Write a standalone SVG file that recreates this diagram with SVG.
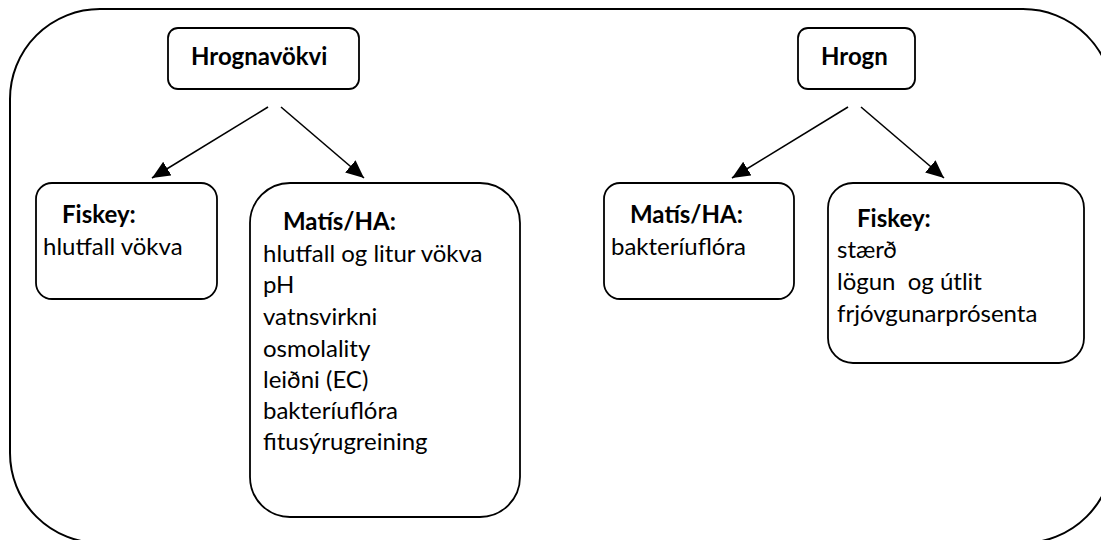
<svg xmlns="http://www.w3.org/2000/svg" width="1101" height="540" viewBox="0 0 1101 540">
<defs>
<style>
.box{fill:#fff;stroke:#000;stroke-width:1.8}
.outer{fill:none;stroke:#000;stroke-width:2}
.t{font-family:Lato,"Open Sans",sans-serif;font-size:24px;fill:#000}
.b{font-weight:bold}
.conn line{stroke:#000;stroke-width:1.6}
</style>
<marker id="ah" viewBox="0 0 18 16" refX="18" refY="8" markerWidth="18" markerHeight="16" markerUnits="userSpaceOnUse" orient="auto">
<path d="M0,0 L18,8 L0,16 Z" fill="#000"/>
</marker>
</defs>
<rect width="1101" height="540" fill="#fff"/>
<rect id="frame" class="outer" x="10" y="9" width="1103" height="534" rx="90" ry="90"/>
<g id="n-hrognavokvi">
<rect class="box" x="168" y="28" width="191" height="61" rx="10"/>
<text class="t b" x="191" y="65">Hrognavökvi</text>
</g>
<g id="n-hrogn">
<rect class="box" x="798" y="28" width="117" height="61" rx="10"/>
<text class="t b" x="821" y="65">Hrogn</text>
</g>
<g id="n-fiskey-left">
<rect class="box" x="36" y="183" width="181" height="116" rx="16"/>
<text class="t b" x="62" y="223">Fiskey:</text>
<text class="t" x="43" y="255">hlutfall vökva</text>
</g>
<g id="n-matis-left">
<rect class="box" x="250" y="183" width="270" height="334" rx="40"/>
<text class="t b" x="283" y="230">Matís/HA:</text>
<text class="t" x="263" y="262">hlutfall og litur vökva</text>
<text class="t" x="263" y="293">pH</text>
<text class="t" x="263" y="325">vatnsvirkni</text>
<text class="t" x="263" y="357">osmolality</text>
<text class="t" x="263" y="388">leiðni (EC)</text>
<text class="t" x="263" y="419">bakteríuflóra</text>
<text class="t" x="263" y="450">fitusýrugreining</text>
</g>
<g id="n-matis-right">
<rect class="box" x="604" y="183" width="190" height="116" rx="16"/>
<text class="t b" x="630" y="223">Matís/HA:</text>
<text class="t" x="611" y="255">bakteríuflóra</text>
</g>
<g id="n-fiskey-right">
<rect class="box" x="828" y="183" width="256" height="180" rx="25"/>
<text class="t b" x="857" y="227">Fiskey:</text>
<text class="t" x="837" y="258">stærð</text>
<text class="t" x="837" y="290" xml:space="preserve">lögun  og útlit</text>
<text class="t" x="837" y="322">frjóvgunarprósenta</text>
</g>
<g id="connectors" class="conn">
<line x1="268" y1="107" x2="152" y2="178" marker-end="url(#ah)"/>
<line x1="281" y1="107" x2="364" y2="178" marker-end="url(#ah)"/>
<line x1="848" y1="107" x2="732" y2="178" marker-end="url(#ah)"/>
<line x1="861" y1="107" x2="944" y2="178" marker-end="url(#ah)"/>
</g>
</svg>
